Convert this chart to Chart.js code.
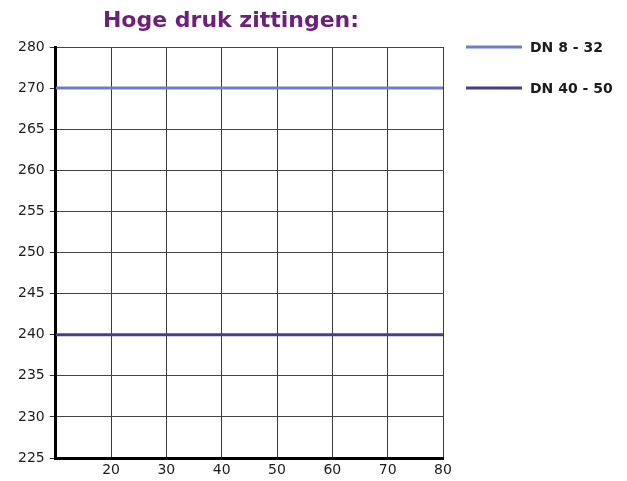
<!DOCTYPE html>
<html>
<head>
<meta charset="utf-8">
<script src="https://cdn.jsdelivr.net/npm/chart.js@4"></script>
<style>
  html, body { margin: 0; padding: 0; background: #fff; }
  #wrap { width: 627px; height: 481px; }
</style>
</head>
<body>
<div id="wrap"><canvas id="chart" width="627" height="481"></canvas></div>
<script>
// data
const xValues = [10, 20, 30, 40, 50, 60, 70, 80];
const dn8to32 = [270, 270, 270, 270, 270, 270, 270, 270];
const dn40to50 = [240, 240, 240, 240, 240, 240, 240, 240];
const seriesNames = ["DN 8 - 32", "DN 40 - 50"];
const seriesColors = ["#6c7cc8", "#4a3c88"];
const xTickLabels = ["", "20", "30", "40", "50", "60", "70", "80"];
// the top label reads 280 although it sits one 5-step above 270
const yTickLabels = ["225", "230", "235", "240", "245", "250", "255", "260", "265", "270", "280"];
const chartTitle = "Hoge druk zittingen:";

const pts = (ys) => xValues.map((x, i) => ({ x: x, y: ys[i] }));

// title and legend drawn at fixed spots, like the original
const decor = {
  id: "decor",
  afterDraw(chart) {
    const c = chart.ctx;
    c.save();
    c.font = "bold 22px 'DejaVu Sans'";
    c.fillStyle = "#6e1f7a";
    c.textAlign = "center";
    c.textBaseline = "middle";
    c.fillText(chartTitle, 231, 21);

    c.font = "bold 14px 'DejaVu Sans'";
    c.fillStyle = "#1c1c1c";
    c.textAlign = "left";
    chart.data.datasets.forEach((ds, i) => {
      const y = 47 + i * 41;
      c.strokeStyle = ds.borderColor;
      c.lineWidth = 3;
      c.beginPath();
      c.moveTo(466, y);
      c.lineTo(522, y);
      c.stroke();
      c.fillText(ds.label, 530, y + 1);
    });
    c.restore();
  }
};

new Chart(document.getElementById("chart"), {
  type: "line",
  data: {
    datasets: [
      { label: seriesNames[0], data: pts(dn8to32), borderColor: seriesColors[0], borderWidth: 3, pointRadius: 0, tension: 0 },
      { label: seriesNames[1], data: pts(dn40to50), borderColor: seriesColors[1], borderWidth: 3, pointRadius: 0, tension: 0 }
    ]
  },
  options: {
    responsive: false,
    animation: false,
    layout: { padding: { top: 47, right: 184, left: 13, bottom: 0 } },
    plugins: {
      legend: { display: false },
      title: { display: false },
      tooltip: { enabled: false }
    },
    scales: {
      x: {
        type: "linear",
        min: 10,
        max: 80,
        afterFit: (s) => { s.height = 23; },
        ticks: {
          stepSize: 10,
          padding: 4,
          color: "#1c1c1c",
          font: { family: "DejaVu Sans", size: 14 },
          callback: (v, i) => xTickLabels[i]
        },
        grid: { color: "#3a3a3a", lineWidth: 1, drawTicks: false },
        border: { color: "#000", width: 3 }
      },
      y: {
        type: "linear",
        min: 225,
        max: 275,
        ticks: {
          stepSize: 5,
          padding: 5,
          color: "#1c1c1c",
          font: { family: "DejaVu Sans", size: 14 },
          callback: (v, i) => yTickLabels[i]
        },
        grid: { color: "#444", lineWidth: 1, tickLength: 6, tickColor: "#333" },
        border: { color: "#000", width: 3 }
      }
    }
  },
  plugins: [decor]
});
</script>
</body>
</html>
